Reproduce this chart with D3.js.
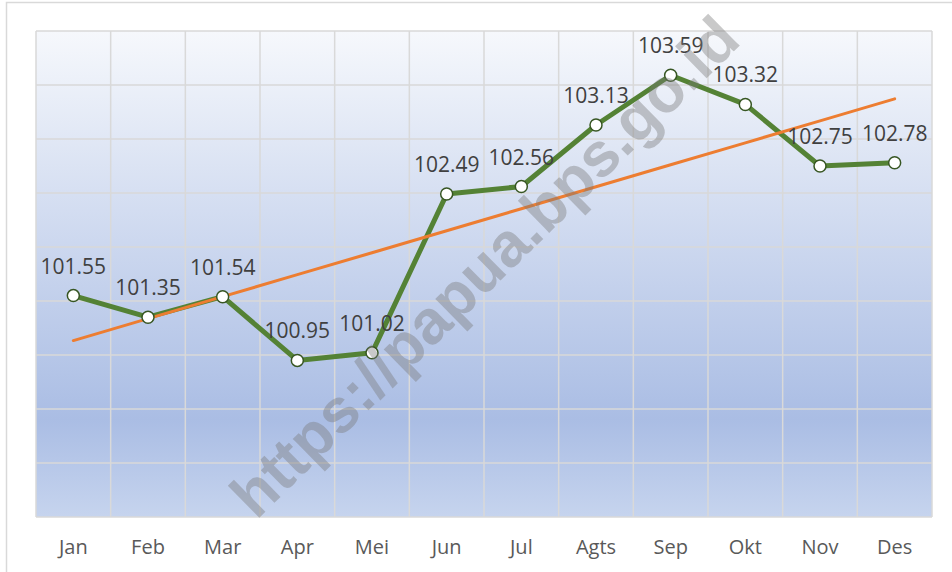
<!DOCTYPE html>
<html>
<head>
<meta charset="utf-8">
<script src="https://cdn.jsdelivr.net/npm/d3@7"></script>
<style>
  html, body { margin: 0; padding: 0; background: #fff; }
  svg { display: block; font-family: "Open Sans", "Liberation Sans", sans-serif; }
</style>
</head>
<body>
<svg id="chart" width="952" height="572"></svg>
<script>
// monthly index values
var months = ["Jan", "Feb", "Mar", "Apr", "Mei", "Jun", "Jul", "Agts", "Sep", "Okt", "Nov", "Des"];
var values = [101.55, 101.35, 101.54, 100.95, 101.02, 102.49, 102.56, 103.13, 103.59, 103.32, 102.75, 102.78];
var gridTicks = [99.5, 100, 100.5, 101, 101.5, 102, 102.5, 103, 103.5, 104];
var watermark = "https://papua.bps.go.id";

(function() {
  var svg = d3.select("#chart");
  var pL = 36, pR = 932, pT = 31, pB = 517;

  var x = d3.scaleBand().domain(months).range([pL, pR]);
  var y = d3.scaleLinear().domain([99.5, 104]).range([pB, pT]);

  // outer chart frame
  svg.append("rect")
    .attr("x", 6.5).attr("y", 2.5)
    .attr("width", 960).attr("height", 600)
    .attr("fill", "#fff")
    .attr("stroke", "#d9d9d9").attr("stroke-width", 1.5);

  // plot area gradient
  var grad = svg.append("defs").append("linearGradient")
    .attr("id", "bg").attr("x1", 0).attr("y1", 0).attr("x2", 0).attr("y2", 1);
  grad.append("stop").attr("offset", "0").attr("stop-color", "#f6f8fc");
  grad.append("stop").attr("offset", "0.8").attr("stop-color", "#aabde4");
  grad.append("stop").attr("offset", "1").attr("stop-color", "#c6d4ee");

  svg.append("rect")
    .attr("x", pL).attr("y", pT)
    .attr("width", pR - pL).attr("height", pB - pT)
    .attr("fill", "url(#bg)");

  // gridlines
  svg.append("g").selectAll("line").data(gridTicks).join("line")
    .attr("x1", pL).attr("x2", pR)
    .attr("y1", function(d){ return y(d); }).attr("y2", function(d){ return y(d); })
    .attr("stroke", "#d9d9d9").attr("stroke-width", 1.5);

  var bounds = months.map(function(m){ return x(m); }).concat([pR]);
  svg.append("g").selectAll("line").data(bounds).join("line")
    .attr("x1", function(d){ return d; }).attr("x2", function(d){ return d; })
    .attr("y1", pT).attr("y2", pB)
    .attr("stroke", "#d9d9d9").attr("stroke-width", 1.5);

  // x axis labels
  var xAxis = d3.axisBottom(x).tickSize(0).tickPadding(23);
  var gx = svg.append("g").attr("transform", "translate(0," + pB + ")").call(xAxis);
  gx.select(".domain").remove();
  gx.selectAll("text").attr("font-size", 20).attr("fill", "#595959")
    .attr("font-family", "Open Sans, sans-serif");

  function cx(d, i){ return x(months[i]) + x.bandwidth() / 2; }

  // linear trend line from the data
  var mx = d3.mean(values, function(d, i){ return i + 1; });
  var my = d3.mean(values);
  var sxy = d3.sum(values, function(d, i){ return (i + 1 - mx) * (d - my); });
  var sxx = d3.sum(values, function(d, i){ return (i + 1 - mx) * (i + 1 - mx); });
  var slope = sxy / sxx, icpt = my - slope * mx;
  var trend = values.map(function(d, i){ return icpt + slope * (i + 1); });

  var line = d3.line().x(cx).y(function(d){ return y(d); });

  svg.append("path").datum(values)
    .attr("d", line).attr("fill", "none")
    .attr("stroke", "#548235").attr("stroke-width", 5)
    .attr("stroke-linejoin", "round");

  svg.append("path").datum(trend)
    .attr("d", line).attr("fill", "none")
    .attr("stroke", "#ed7d31").attr("stroke-width", 3)
    .attr("stroke-linecap", "round");

  svg.append("g").selectAll("circle").data(values).join("circle")
    .attr("cx", cx).attr("cy", function(d){ return y(d); })
    .attr("r", 6)
    .attr("fill", "#fff").attr("stroke", "#375623").attr("stroke-width", 1.5);

  svg.append("g").selectAll("text").data(values).join("text")
    .attr("x", cx).attr("y", function(d){ return y(d) - 22; })
    .attr("text-anchor", "middle")
    .attr("font-size", 21).attr("fill", "#404040")
    .text(function(d){ return d.toFixed(2); });

  // watermark
  svg.append("text")
    .attr("transform", "translate(488,270) rotate(-44.5)")
    .attr("text-anchor", "middle").attr("dominant-baseline", "middle")
    .attr("font-family", "Liberation Sans, Arial, sans-serif")
    .attr("font-weight", "bold").attr("font-size", 62)
    .attr("fill", "#777").attr("fill-opacity", 0.4)
    .text(watermark);
})();
</script>
</body>
</html>
